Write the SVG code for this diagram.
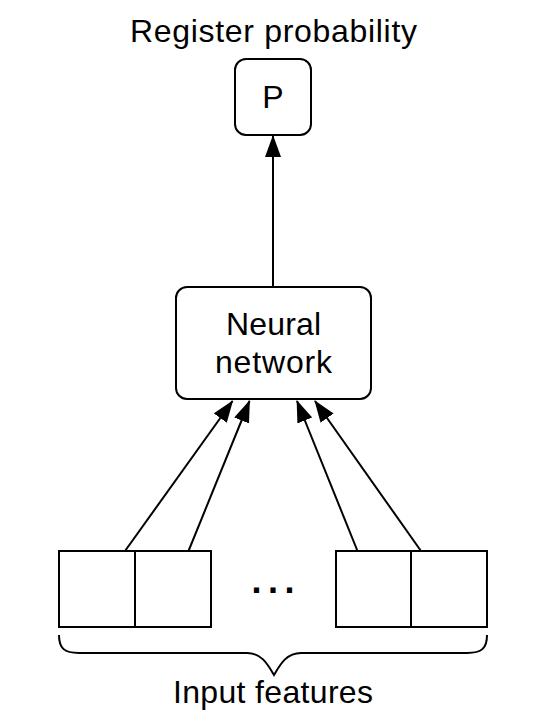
<svg xmlns="http://www.w3.org/2000/svg" width="546" height="723" viewBox="0 0 546 723">
<style>
.box{fill:#fff;stroke:#000;stroke-width:2}
.t{font-family:"Liberation Sans",Arial,Helvetica,sans-serif;font-size:32px;fill:#000;text-anchor:middle}
.c{stroke:#000;stroke-width:2;fill:none}
</style>
<defs>
<marker id="ah" markerUnits="userSpaceOnUse" markerWidth="22" markerHeight="16" refX="21" refY="8" orient="auto">
<path d="M0,0 L22,8 L0,16 z" fill="#000"/>
</marker>
</defs>
<rect width="546" height="723" fill="#fff"/>
<text class="t" x="273.5" y="42" textLength="287" lengthAdjust="spacing">Register probability</text>
<g id="node-p">
<rect class="box" x="235" y="59" width="76" height="76" rx="11"/>
<text class="t" x="273" y="108">P</text>
</g>
<g id="node-nn">
<rect class="box" x="176" y="287" width="195" height="112" rx="11"/>
<text class="t" x="273.5" y="335" textLength="95" lengthAdjust="spacing">Neural</text>
<text class="t" x="273.5" y="373" textLength="117" lengthAdjust="spacing">network</text>
</g>
<g id="node-in1"><rect class="box" x="59" y="551" width="76" height="76"/></g>
<g id="node-in2"><rect class="box" x="135" y="551" width="76" height="76"/></g>
<g id="node-in3"><rect class="box" x="336" y="551" width="75" height="76"/></g>
<g id="node-in4"><rect class="box" x="411" y="551" width="76" height="76"/></g>
<text class="t" x="256.5 273 289.5" y="592.5" style="font-weight:bold;font-size:36px">...</text>
<g id="connectors">
<line class="c" x1="273" y1="287" x2="273" y2="136" marker-end="url(#ah)"/>
<line class="c" x1="125" y1="551" x2="232.5" y2="401" marker-end="url(#ah)"/>
<line class="c" x1="188.5" y1="551" x2="249.5" y2="401" marker-end="url(#ah)"/>
<line class="c" x1="357.5" y1="551" x2="297" y2="401" marker-end="url(#ah)"/>
<line class="c" x1="421" y1="551" x2="315" y2="401" marker-end="url(#ah)"/>
</g>
<path class="c" d="M59,635 C59,648 64,653 79,653 L247,653 C262,653 268,665 274,675 C280,665 286,653 301,653 L467,653 C482,653 487,648 487,635"/>
<text class="t" x="273" y="703" textLength="200" lengthAdjust="spacing">Input features</text>
</svg>
